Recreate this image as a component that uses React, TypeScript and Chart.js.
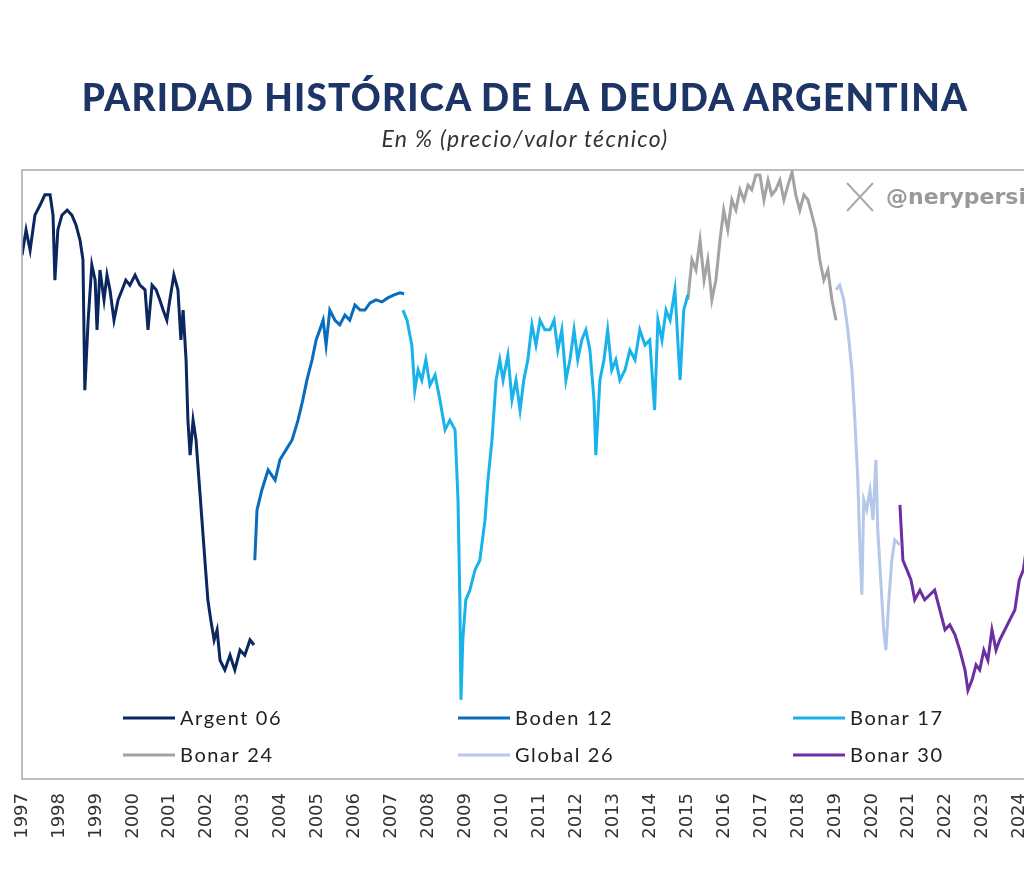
import React, { useEffect, useRef } from "react";
import { Chart, registerables } from "chart.js";
Chart.register(...registerables);

const years = Array.from({ length: 28 }, (_, i) => 1997 + i);

type P = [number, number];
const argent06: P[] = [
  [1997.0,103.2],[1997.11,108.2],[1997.22,104.2],[1997.35,111.1],[1997.49,113.1],[1997.62,115.1],[1997.76,115.1],[1997.84,111.1],[1997.89,98.3],[1997.97,108.2],[1998.08,111.1],[1998.22,112.1],[1998.35,111.1],[1998.46,109.2],[1998.57,106.2],[1998.65,102.3],[1998.70,76.6],[1998.79,90.4],[1998.89,101.3],[1998.98,98.3],[1999.03,88.5],[1999.11,100.3],[1999.22,94.4],[1999.30,99.3],[1999.38,96.4],[1999.49,90.4],[1999.60,94.4],[1999.71,96.4],[1999.81,98.3],[1999.92,97.3],[2000.06,99.3],[2000.19,97.3],[2000.33,96.4],[2000.41,88.5],[2000.52,97.3],[2000.63,96.4],[2000.73,94.4],[2000.82,92.4],[2000.92,90.4],[2001.0,94.4],[2001.11,99.3],[2001.22,96.4],[2001.30,86.5],[2001.36,92.4],[2001.44,82.6],[2001.49,70.7],[2001.55,63.8],[2001.63,70.7],[2001.71,66.8],[2001.79,58.9],[2001.87,51.0],[2001.95,43.1],[2002.03,35.3],[2002.11,31.3],[2002.20,27.4],[2002.28,29.4],[2002.36,23.4],[2002.49,21.5],[2002.63,24.4],[2002.76,21.5],[2002.90,25.4],[2003.03,24.4],[2003.17,27.4],[2003.28,26.4]
];
const boden12: P[] = [
  [2003.30,43.1],[2003.36,53.0],[2003.49,56.9],[2003.66,60.9],[2003.85,58.9],[2003.98,62.9],[2004.14,64.8],[2004.31,66.8],[2004.47,70.7],[2004.60,74.7],[2004.71,78.6],[2004.85,82.6],[2004.96,86.5],[2005.06,88.5],[2005.15,90.4],[2005.23,85.5],[2005.33,92.4],[2005.47,90.4],[2005.60,89.5],[2005.74,91.4],[2005.87,90.4],[2006.01,93.4],[2006.15,92.4],[2006.28,92.4],[2006.42,93.8],[2006.58,94.4],[2006.74,94.0],[2006.90,94.8],[2007.07,95.4],[2007.23,95.8],[2007.34,95.6]
];
const bonar17: P[] = [
  [2007.31,92.4],[2007.42,90.4],[2007.55,85.5],[2007.63,76.6],[2007.72,80.6],[2007.82,78.6],[2007.93,82.6],[2008.04,77.6],[2008.18,79.6],[2008.31,74.7],[2008.45,68.8],[2008.58,70.7],[2008.72,68.8],[2008.80,55.0],[2008.85,35.3],[2008.88,15.6],[2008.93,27.4],[2009.01,35.3],[2009.12,37.2],[2009.26,41.2],[2009.39,43.1],[2009.53,51.0],[2009.61,58.9],[2009.72,66.8],[2009.83,78.6],[2009.93,82.6],[2010.02,78.6],[2010.15,83.5],[2010.26,74.7],[2010.37,78.6],[2010.48,72.7],[2010.58,78.6],[2010.69,82.6],[2010.80,89.5],[2010.91,85.5],[2011.02,90.4],[2011.15,88.5],[2011.29,88.5],[2011.40,90.4],[2011.50,84.5],[2011.61,88.5],[2011.72,78.6],[2011.83,82.6],[2011.94,88.5],[2012.04,82.6],[2012.15,86.5],[2012.26,88.5],[2012.37,84.5],[2012.48,74.7],[2012.53,63.8],[2012.64,78.6],[2012.75,82.6],[2012.85,88.5],[2012.96,80.6],[2013.07,82.6],[2013.18,78.6],[2013.32,80.6],[2013.45,84.5],[2013.59,82.6],[2013.72,88.5],[2013.86,85.5],[2013.99,86.5],[2014.12,72.7],[2014.21,90.4],[2014.32,86.5],[2014.43,92.4],[2014.54,90.4],[2014.67,96.4],[2014.81,78.6],[2014.91,92.4],[2015.02,95.4]
];
const bonar24: P[] = [
  [2015.02,94.4],[2015.13,102.3],[2015.24,100.3],[2015.35,106.2],[2015.46,98.3],[2015.56,102.3],[2015.67,94.4],[2015.78,98.3],[2015.89,106.2],[2015.99,112.1],[2016.10,108.2],[2016.21,114.1],[2016.32,112.1],[2016.43,116.1],[2016.54,114.1],[2016.65,117.0],[2016.75,116.1],[2016.86,119.0],[2016.97,119.0],[2017.08,114.1],[2017.19,118.0],[2017.29,115.1],[2017.40,116.1],[2017.51,118.0],[2017.62,114.1],[2017.73,117.0],[2017.84,119.6],[2017.94,115.1],[2018.05,112.1],[2018.16,115.1],[2018.27,114.1],[2018.38,111.1],[2018.48,108.2],[2018.59,102.3],[2018.70,98.3],[2018.81,100.3],[2018.92,94.4],[2019.03,90.4]
];
const global26: P[] = [
  [2019.03,96.4],[2019.13,97.3],[2019.24,94.4],[2019.35,88.5],[2019.46,80.6],[2019.54,70.7],[2019.62,58.9],[2019.67,47.1],[2019.73,36.3],[2019.78,55.0],[2019.86,53.0],[2019.95,56.9],[2020.03,51.0],[2020.11,62.9],[2020.16,49.1],[2020.24,39.2],[2020.32,29.4],[2020.38,25.4],[2020.46,35.3],[2020.54,43.1],[2020.62,47.1],[2020.76,46.1]
];
const bonar30: P[] = [
  [2020.76,54.0],[2020.84,43.1],[2020.95,41.2],[2021.06,39.2],[2021.16,35.3],[2021.30,37.2],[2021.43,35.3],[2021.57,36.3],[2021.70,37.2],[2021.84,33.3],[2021.98,29.4],[2022.11,30.4],[2022.25,28.4],[2022.38,25.4],[2022.52,21.5],[2022.60,17.5],[2022.71,19.5],[2022.82,22.5],[2022.92,21.5],[2023.03,25.4],[2023.14,23.4],[2023.25,29.4],[2023.36,25.4],[2023.46,27.4],[2023.60,29.4],[2023.73,31.3],[2023.87,33.3],[2023.99,39.2],[2024.10,41.2],[2024.27,50.0]
];

const seriesNames = ["Argent 06", "Boden 12", "Bonar 17", "Bonar 24", "Global 26", "Bonar 30"];
const seriesData = [argent06, boden12, bonar17, bonar24, global26, bonar30];
const seriesColors = ["#0c2660", "#0a6cbc", "#19b2ea", "#a3a3a3", "#b4c8ea", "#6b2fa3"];

const overlay = {
  id: "overlay",
  afterDraw(chart: any) {
    const { ctx, chartArea: a } = chart;
    ctx.save();
    ctx.strokeStyle = "#a8a8a8";
    ctx.lineWidth = 1.5;
    ctx.strokeRect(a.left, a.top, a.right - a.left, a.bottom - a.top);
    // legend
    ctx.font = "20px Lato";
    (ctx as any).letterSpacing = "1.6px";
    ctx.textBaseline = "middle";
    ctx.fillStyle = "#222";
    const cols = [123, 458, 793];
    const rows = [718, 755];
    seriesNames.forEach((n, i) => {
      const x = cols[i % 3], y = rows[Math.floor(i / 3)];
      ctx.strokeStyle = seriesColors[i];
      ctx.lineWidth = 3;
      ctx.beginPath(); ctx.moveTo(x, y); ctx.lineTo(x + 52, y); ctx.stroke();
      ctx.fillText(n, x + 57, y + 1);
    });
    // watermark
    (ctx as any).letterSpacing = "0px";
    ctx.strokeStyle = "#aaa";
    ctx.lineWidth = 2;
    ctx.beginPath(); ctx.moveTo(847, 183); ctx.lineTo(873, 211); ctx.moveTo(873, 183); ctx.lineTo(847, 211); ctx.stroke();
    ctx.fillStyle = "#999";
    ctx.font = "bold 22px 'DejaVu Sans'";
    ctx.fillText("@nerypersico", 886, 198);
    ctx.restore();
  },
};

export default function App() {
  const ref = useRef<HTMLCanvasElement>(null);
  useEffect(() => {
    document.body.style.overflow = "hidden";
    const chart = new Chart(ref.current!, {
      type: "line",
      data: {
        datasets: seriesData.map((d, i) => ({
          label: seriesNames[i],
          data: d.map(([x, y]) => ({ x, y })),
          borderColor: seriesColors[i],
          borderWidth: 3,
          pointRadius: 0,
          tension: 0,
        })),
      },
      options: {
        animation: false,
        responsive: false,
        layout: { padding: { left: 22, top: 170, right: 16, bottom: 0 } },
        plugins: { legend: { display: false }, tooltip: { enabled: false } },
        scales: {
          x: {
            type: "linear",
            min: 1997,
            max: 2025.2,
            afterBuildTicks: (s: any) => { s.ticks = years.map((v) => ({ value: v })); },
            afterFit: (s: any) => { s.height = 101; },
            grid: { display: false },
            border: { display: false },
            ticks: {
              minRotation: 90, maxRotation: 90, autoSkip: false, padding: 6,
              color: "#333", font: { family: "DejaVu Sans", size: 18 },
              callback: (v: any) => String(v),
            },
          },
          y: { display: false, min: 0, max: 120 },
        },
      },
      plugins: [overlay],
    });
    return () => chart.destroy();
  }, []);
  return (
    <div style={{ position: "absolute", left: 0, top: 0, width: 1080, height: 880, background: "#fff" }}>
      <canvas ref={ref} width={1080} height={880} style={{ position: "absolute", left: 0, top: 0 }} />
      <div style={{ position: "absolute", left: 0, width: 1050, top: 74, textAlign: "center", fontFamily: "Lato", fontWeight: 900, fontSize: 37, color: "#1d3466", letterSpacing: 1.2, whiteSpace: "nowrap" }}>
        PARIDAD HISTÓRICA DE LA DEUDA ARGENTINA
      </div>
      <div style={{ position: "absolute", left: 0, width: 1050, top: 124, textAlign: "center", fontFamily: "Lato", fontStyle: "italic", fontSize: 23, color: "#333", letterSpacing: 1.3 }}>
        En % (precio/valor técnico)
      </div>
    </div>
  );
}
